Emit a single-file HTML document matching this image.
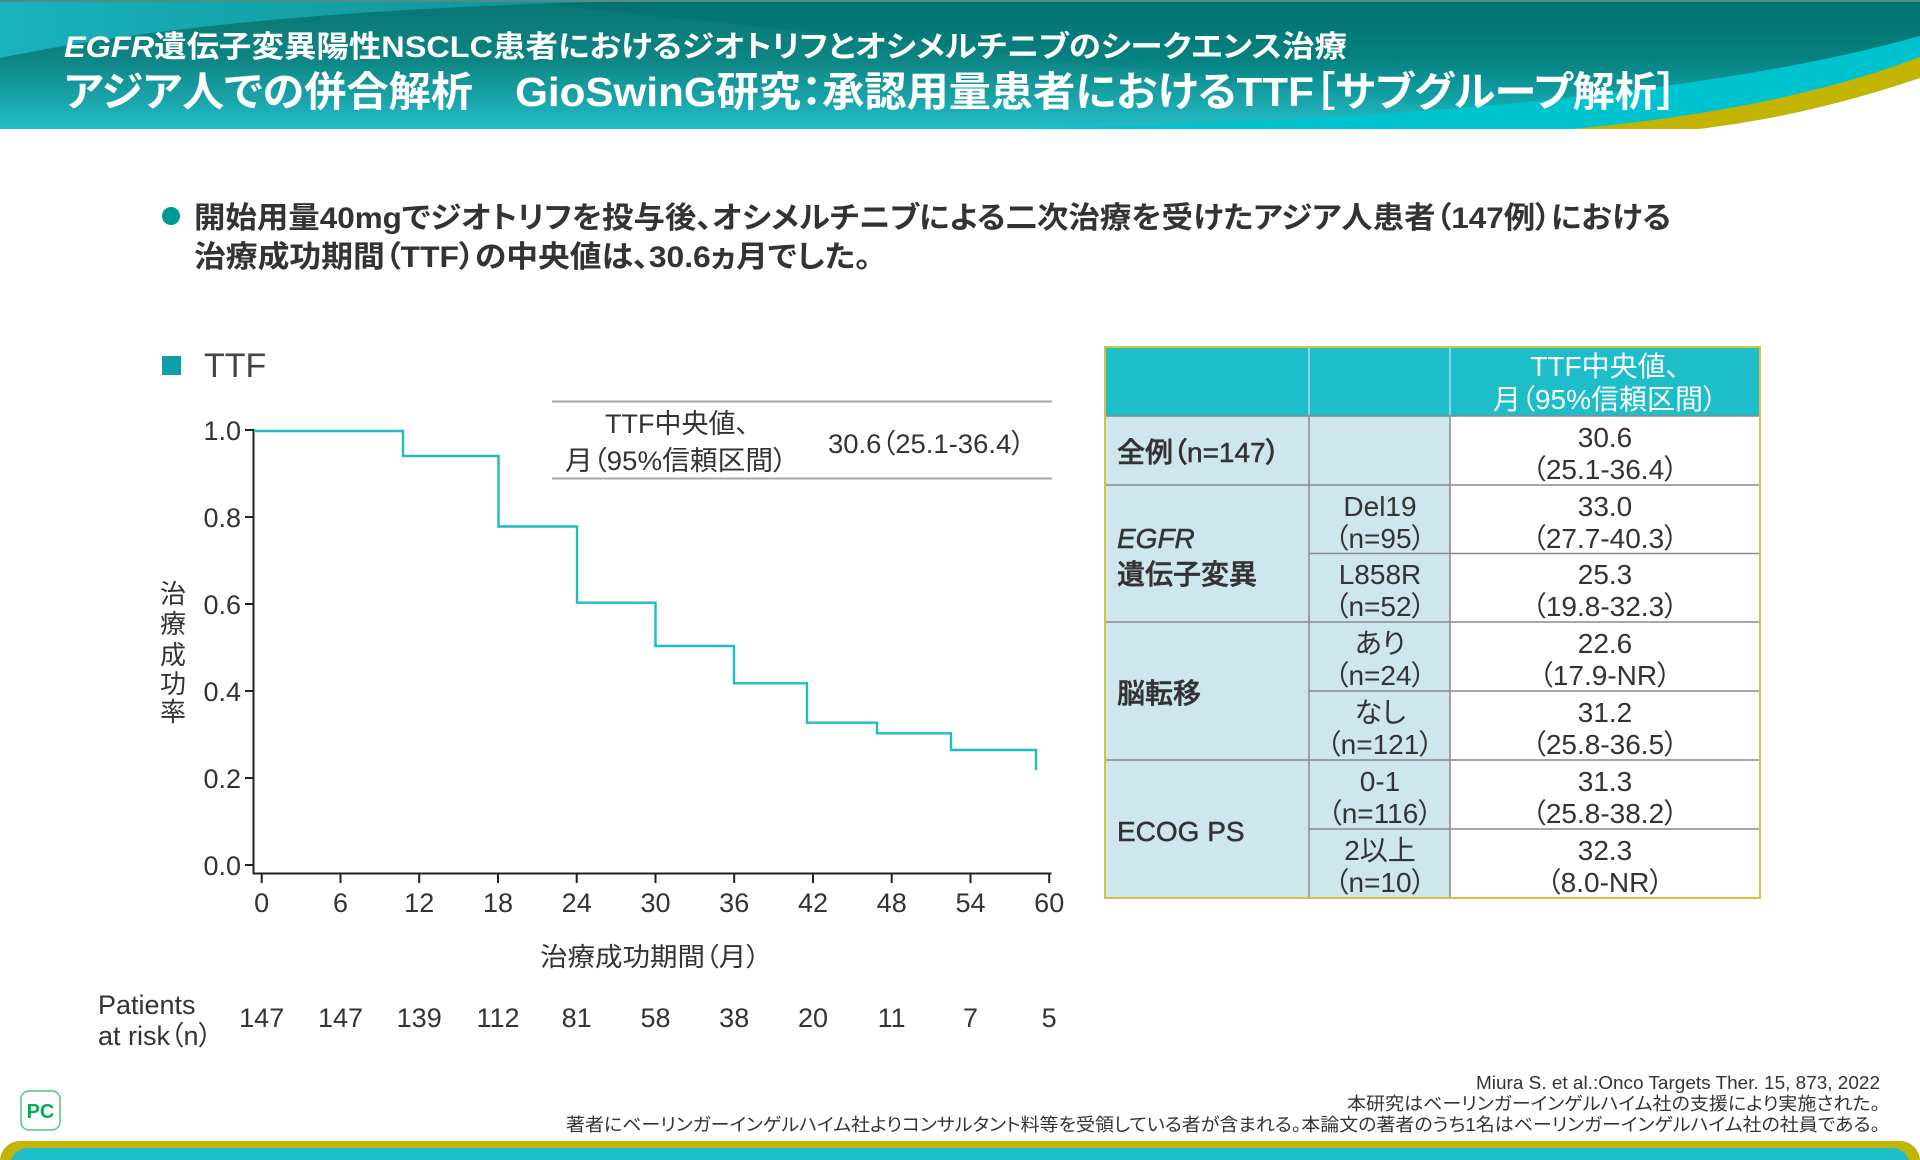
<!DOCTYPE html>
<html>
<head>
<meta charset="utf-8">
<style>
html,body{margin:0;padding:0;background:#fff;}
svg{display:block;}
text{font-family:"Liberation Sans","Noto Sans CJK JP",sans-serif;font-feature-settings:"palt";}
.b{font-weight:bold;}
.m{font-weight:500;}
</style>
</head>
<body>
<svg width="1920" height="1160" viewBox="0 0 1920 1160" xmlns="http://www.w3.org/2000/svg">
<defs>
<linearGradient id="hg" x1="0" y1="0" x2="0" y2="1">
<stop offset="0" stop-color="#02716e"/>
<stop offset="0.45" stop-color="#06817f"/>
<stop offset="1" stop-color="#1cbbc7"/>
</linearGradient>
<linearGradient id="lg" x1="0" y1="0" x2="1" y2="0">
<stop offset="0" stop-color="#12b0ba"/>
<stop offset="1" stop-color="#098e91"/>
</linearGradient>
</defs>

<!-- header -->
<rect x="0" y="0" width="1920" height="130" fill="url(#hg)"/>
<path d="M0,2 L600,2 Q220,12 0,58 Z" fill="url(#lg)"/>
<path d="M520,2 Q1100,60 1600,130 L0,130 L0,2 Z" fill="#ffffff" opacity="0.03"/>
<rect x="0" y="0" width="1920" height="2" fill="#4d8e8b"/>
<path d="M950,130 C1400,124 1720,92 1920,36 L1920,132 L950,132 Z" fill="#00c3d0"/>
<path d="M1560,130 C1700,118 1820,95 1920,57 L1920,78 C1830,108 1760,122 1690,130 Z" fill="#c3b400"/>
<path d="M1690,130 C1760,122 1830,108 1920,78 L1920,132 L1690,132 Z" fill="#ffffff"/>
<rect x="0" y="129" width="1920" height="3" fill="#ffffff"/>

<text x="64" y="57" class="b" font-size="30" fill="#fff" textLength="1283" lengthAdjust="spacingAndGlyphs"><tspan font-style="italic">EGFR</tspan>遺伝子変異陽性NSCLC患者におけるジオトリフとオシメルチニブのシークエンス治療</text>
<text x="64" y="106" class="b" font-size="41" fill="#fff" textLength="1614" lengthAdjust="spacingAndGlyphs">アジア人での併合解析　GioSwinG研究：承認用量患者におけるTTF［サブグループ解析］</text>

<!-- bullet -->
<circle cx="171" cy="216" r="9" fill="#009a96"/>
<text x="194" y="228" class="b" font-size="30" fill="#333" textLength="1477" lengthAdjust="spacingAndGlyphs">開始用量40mgでジオトリフを投与後、オシメルチニブによる二次治療を受けたアジア人患者（147例）における</text>
<text x="194" y="267" class="b" font-size="30" fill="#333" textLength="677" lengthAdjust="spacingAndGlyphs">治療成功期間（TTF）の中央値は、30.6ヵ月でした。</text>

<!-- legend -->
<rect x="162" y="356" width="19" height="19" fill="#0c9ea9"/>
<text x="204" y="377" font-size="34" fill="#444">TTF</text>

<!-- inner table in chart -->
<line x1="552" y1="401.5" x2="1052" y2="401.5" stroke="#aaa" stroke-width="2"/>
<line x1="552" y1="478.5" x2="1052" y2="478.5" stroke="#aaa" stroke-width="2"/>
<text x="677" y="433" font-size="27" fill="#333" text-anchor="middle">TTF中央値、</text>
<text x="676" y="470" font-size="27" fill="#333" text-anchor="middle" textLength="222" lengthAdjust="spacingAndGlyphs">月（95%信頼区間）</text>
<text x="828" y="453" font-size="27" fill="#333" textLength="197" lengthAdjust="spacingAndGlyphs">30.6（25.1-36.4）</text>

<!-- axes -->
<g stroke="#222" stroke-width="2" fill="none">
<line x1="253.5" y1="429" x2="253.5" y2="874"/>
<line x1="252.5" y1="873.5" x2="1051.5" y2="873.5"/>
<line x1="245" y1="430" x2="253" y2="430"/>
<line x1="245" y1="517" x2="253" y2="517"/>
<line x1="245" y1="604" x2="253" y2="604"/>
<line x1="245" y1="691" x2="253" y2="691"/>
<line x1="245" y1="778" x2="253" y2="778"/>
<line x1="245" y1="865" x2="253" y2="865"/>
<line x1="261.7" y1="873" x2="261.7" y2="883"/>
<line x1="340.5" y1="873" x2="340.5" y2="883"/>
<line x1="419.2" y1="873" x2="419.2" y2="883"/>
<line x1="498" y1="873" x2="498" y2="883"/>
<line x1="576.7" y1="873" x2="576.7" y2="883"/>
<line x1="655.5" y1="873" x2="655.5" y2="883"/>
<line x1="734.2" y1="873" x2="734.2" y2="883"/>
<line x1="813" y1="873" x2="813" y2="883"/>
<line x1="891.7" y1="873" x2="891.7" y2="883"/>
<line x1="970.5" y1="873" x2="970.5" y2="883"/>
<line x1="1049.2" y1="873" x2="1049.2" y2="883"/>
</g>

<g font-size="27" fill="#333" text-anchor="end">
<text x="241" y="440">1.0</text>
<text x="241" y="527">0.8</text>
<text x="241" y="614">0.6</text>
<text x="241" y="701">0.4</text>
<text x="241" y="788">0.2</text>
<text x="241" y="875">0.0</text>
</g>

<g font-size="27" fill="#333" text-anchor="middle">
<text x="261.7" y="912">0</text>
<text x="340.5" y="912">6</text>
<text x="419.2" y="912">12</text>
<text x="498" y="912">18</text>
<text x="576.7" y="912">24</text>
<text x="655.5" y="912">30</text>
<text x="734.2" y="912">36</text>
<text x="813" y="912">42</text>
<text x="891.7" y="912">48</text>
<text x="970.5" y="912">54</text>
<text x="1049.2" y="912">60</text>
</g>

<!-- y axis title -->
<g font-size="26" fill="#333" text-anchor="middle">
<text x="173" y="603">治</text>
<text x="173" y="633">療</text>
<text x="173" y="664">成</text>
<text x="173" y="693">功</text>
<text x="173" y="721">率</text>
</g>

<text x="650" y="966" font-size="26" fill="#333" text-anchor="middle" textLength="220" lengthAdjust="spacingAndGlyphs">治療成功期間（月）</text>

<!-- curve -->
<path d="M254,431 H403 V456 H498.5 V526.5 H577 V602.7 H655.5 V646 H734 V683.3 H807 V722.7 H877 V733.3 H951 V750 H1036 V770" fill="none" stroke="#1cbcc8" stroke-width="2.4"/>

<!-- patients at risk -->
<text x="98" y="1014" font-size="27" fill="#333">Patients</text>
<text x="98" y="1045" font-size="27" fill="#333">at risk（n）</text>
<g font-size="27" fill="#333" text-anchor="middle">
<text x="261.7" y="1027">147</text>
<text x="340.5" y="1027">147</text>
<text x="419.2" y="1027">139</text>
<text x="498" y="1027">112</text>
<text x="576.7" y="1027">81</text>
<text x="655.5" y="1027">58</text>
<text x="734.2" y="1027">38</text>
<text x="813" y="1027">20</text>
<text x="891.7" y="1027">11</text>
<text x="970.5" y="1027">7</text>
<text x="1049.2" y="1027">5</text>
</g>

<!-- right table -->
<rect x="1105" y="347" width="655" height="69" fill="#1dbdca"/>
<rect x="1105" y="416" width="345" height="482" fill="#cde7ed"/>
<rect x="1450" y="416" width="310" height="482" fill="#ffffff"/>
<g stroke="#a8dfe4" stroke-width="1.5">
<line x1="1309" y1="347" x2="1309" y2="416"/>
<line x1="1450" y1="347" x2="1450" y2="416"/>
</g>
<g stroke="#8a8a8a" stroke-width="1.5">
<line x1="1105" y1="416" x2="1760" y2="416"/>
<line x1="1105" y1="485" x2="1760" y2="485"/>
<line x1="1309" y1="553.5" x2="1760" y2="553.5"/>
<line x1="1105" y1="622" x2="1760" y2="622"/>
<line x1="1309" y1="691" x2="1760" y2="691"/>
<line x1="1105" y1="760" x2="1760" y2="760"/>
<line x1="1309" y1="829" x2="1760" y2="829"/>
<line x1="1309" y1="416" x2="1309" y2="898"/>
<line x1="1450" y1="416" x2="1450" y2="898"/>
</g>
<rect x="1105" y="347" width="655" height="551" fill="none" stroke="#d0c53c" stroke-width="2"/>

<text x="1605" y="376" font-size="28" fill="#fff" text-anchor="middle">TTF中央値、</text>
<text x="1605" y="409" font-size="28" fill="#fff" text-anchor="middle">月（95%信頼区間）</text>

<g font-size="28" fill="#333" stroke="#333" stroke-width="0.5" class="m">
<text x="1117" y="462">全例（n=147）</text>
<text x="1117" y="548" font-style="italic">EGFR</text>
<text x="1117" y="584">遺伝子変異</text>
<text x="1117" y="703">脳転移</text>
<text x="1117" y="841">ECOG PS</text>
</g>

<g font-size="28" fill="#333" text-anchor="middle">
<text x="1380" y="516">Del19</text>
<text x="1380" y="548">（n=95）</text>
<text x="1380" y="584">L858R</text>
<text x="1380" y="616">（n=52）</text>
<text x="1380" y="653">あり</text>
<text x="1380" y="685">（n=24）</text>
<text x="1380" y="722">なし</text>
<text x="1380" y="754">（n=121）</text>
<text x="1380" y="791">0-1</text>
<text x="1380" y="823">（n=116）</text>
<text x="1380" y="860">2以上</text>
<text x="1380" y="892">（n=10）</text>

<text x="1605" y="447">30.6</text>
<text x="1605" y="479">（25.1-36.4）</text>
<text x="1605" y="516">33.0</text>
<text x="1605" y="548">（27.7-40.3）</text>
<text x="1605" y="584">25.3</text>
<text x="1605" y="616">（19.8-32.3）</text>
<text x="1605" y="653">22.6</text>
<text x="1605" y="685">（17.9-NR）</text>
<text x="1605" y="722">31.2</text>
<text x="1605" y="754">（25.8-36.5）</text>
<text x="1605" y="791">31.3</text>
<text x="1605" y="823">（25.8-38.2）</text>
<text x="1605" y="860">32.3</text>
<text x="1605" y="892">（8.0-NR）</text>
</g>

<!-- footnotes -->
<g font-size="18" fill="#333" text-anchor="end">
<text x="1880" y="1089" textLength="404" lengthAdjust="spacingAndGlyphs">Miura S. et al.:Onco Targets Ther. 15, 873, 2022</text>
<text x="1880" y="1110" textLength="533" lengthAdjust="spacingAndGlyphs">本研究はベーリンガーインゲルハイム社の支援により実施された。</text>
<text x="1880" y="1131" textLength="1314" lengthAdjust="spacingAndGlyphs">著者にベーリンガーインゲルハイム社よりコンサルタント料等を受領している者が含まれる。本論文の著者のうち1名はベーリンガーインゲルハイム社の社員である。</text>
</g>

<!-- logo -->
<rect x="21" y="1091" width="39" height="39" rx="8" fill="#fff" stroke="#55c47f" stroke-width="1.5"/>
<text x="40.5" y="1118" font-size="20" class="b" fill="#00b050" text-anchor="middle">PC</text>

<!-- bottom band -->
<rect x="0" y="1141" width="1920" height="44" rx="20" fill="#c2b400"/>
<rect x="10" y="1148" width="1900" height="36" rx="18" fill="#1dbdca"/>
</svg>
</body>
</html>
